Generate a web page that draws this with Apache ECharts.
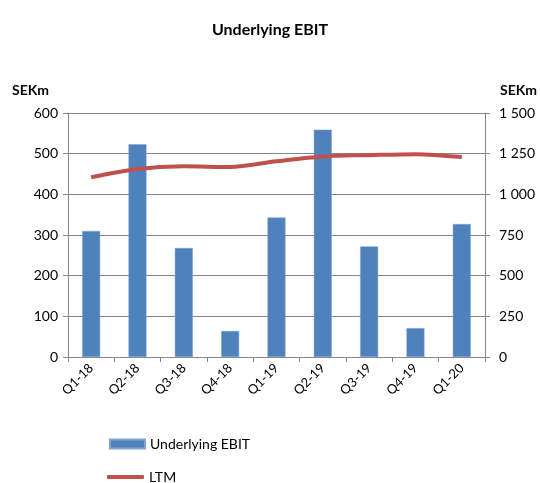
<!DOCTYPE html>
<html>
<head>
<meta charset="utf-8">
<script src="https://cdn.jsdelivr.net/npm/echarts@6/dist/echarts.min.js"></script>
<style>
  html, body { margin: 0; padding: 0; background: #fff; }
  #chart { width: 540px; height: 483px; }
</style>
</head>
<body>
<div id="chart"></div>
<script>
// quarters on the x axis
var quarters = ['Q1-18', 'Q2-18', 'Q3-18', 'Q4-18', 'Q1-19', 'Q2-19', 'Q3-19', 'Q4-19', 'Q1-20'];
// underlying EBIT per quarter, SEKm (left axis)
var ebit = [310, 523, 268, 64, 343, 559, 272, 71, 327];
// last twelve months, SEKm (right axis)
var ltm = [1105, 1156, 1172, 1168, 1203, 1233, 1241, 1247, 1229];

var font = 'Lato, "Liberation Sans", sans-serif';
var chart = echarts.init(document.getElementById('chart'));

var legendText = { fontSize: 14, color: '#000', fontFamily: font };

var option = {
    animation: false,
    textStyle: { fontFamily: font },
    title: {
        text: 'Underlying EBIT',
        left: 'center',
        top: 17,
        textStyle: { fontSize: 16, fontWeight: 'bold', color: '#000', fontFamily: font }
    },
    legend: [
        {
            left: 104,
            top: 432,
            itemWidth: 35,
            itemHeight: 9,
            textStyle: legendText,
            data: [{ name: 'Underlying EBIT', icon: 'rect' }]
        },
        {
            left: 102,
            top: 465,
            itemWidth: 37,
            itemHeight: 4,
            textStyle: legendText,
            data: [{ name: 'LTM', icon: 'roundRect' }]
        }
    ],
    grid: { left: 68, right: 53, top: 113, bottom: 126 },
    xAxis: {
        type: 'category',
        data: quarters,
        axisLine: { lineStyle: { color: '#868686' } },
        axisTick: { show: true, alignWithLabel: false, length: 5, lineStyle: { color: '#868686' } },
        axisLabel: {
            rotate: 45,
            interval: 0,
            fontSize: 13,
            color: '#000',
            margin: 9
        }
    },
    yAxis: [
        {
            type: 'value',
            name: 'SEKm',
            nameLocation: 'end',
            nameGap: 16,
            nameTextStyle: { fontWeight: 'bold', fontSize: 14, color: '#000', align: 'left', padding: [0, 0, 0, -56] },
            min: 0,
            max: 600,
            interval: 100,
            axisLine: { show: true, lineStyle: { color: '#868686' } },
            axisTick: { show: true, length: 5, lineStyle: { color: '#868686' } },
            axisLabel: { fontSize: 14, color: '#000', margin: 10 },
            splitLine: { lineStyle: { color: '#868686' } }
        },
        {
            type: 'value',
            name: 'SEKm',
            nameLocation: 'end',
            nameGap: 16,
            nameTextStyle: { fontWeight: 'bold', fontSize: 14, color: '#000', align: 'left', padding: [0, 0, 0, 15] },
            min: 0,
            max: 1500,
            interval: 250,
            axisLine: { show: true, lineStyle: { color: '#868686' } },
            axisTick: { show: true, length: 5, lineStyle: { color: '#868686' } },
            axisLabel: {
                fontSize: 14,
                color: '#000',
                margin: 14,
                formatter: function (v) {
                    return String(v).replace(/\B(?=(\d{3})+(?!\d))/g, ' ');
                }
            },
            splitLine: { show: false }
        }
    ],
    series: [
        {
            name: 'Underlying EBIT',
            type: 'bar',
            data: ebit,
            yAxisIndex: 0,
            barWidth: 18,
            itemStyle: { color: '#4f81bd', borderColor: '#7fa3d0', borderWidth: 0.5 }
        },
        {
            name: 'LTM',
            type: 'line',
            data: ltm,
            yAxisIndex: 1,
            smooth: 0.3,
            symbol: 'none',
            lineStyle: { color: '#c0504d', width: 4 },
            itemStyle: { color: '#c0504d' }
        }
    ]
};

chart.setOption(option);
</script>
</body>
</html>
